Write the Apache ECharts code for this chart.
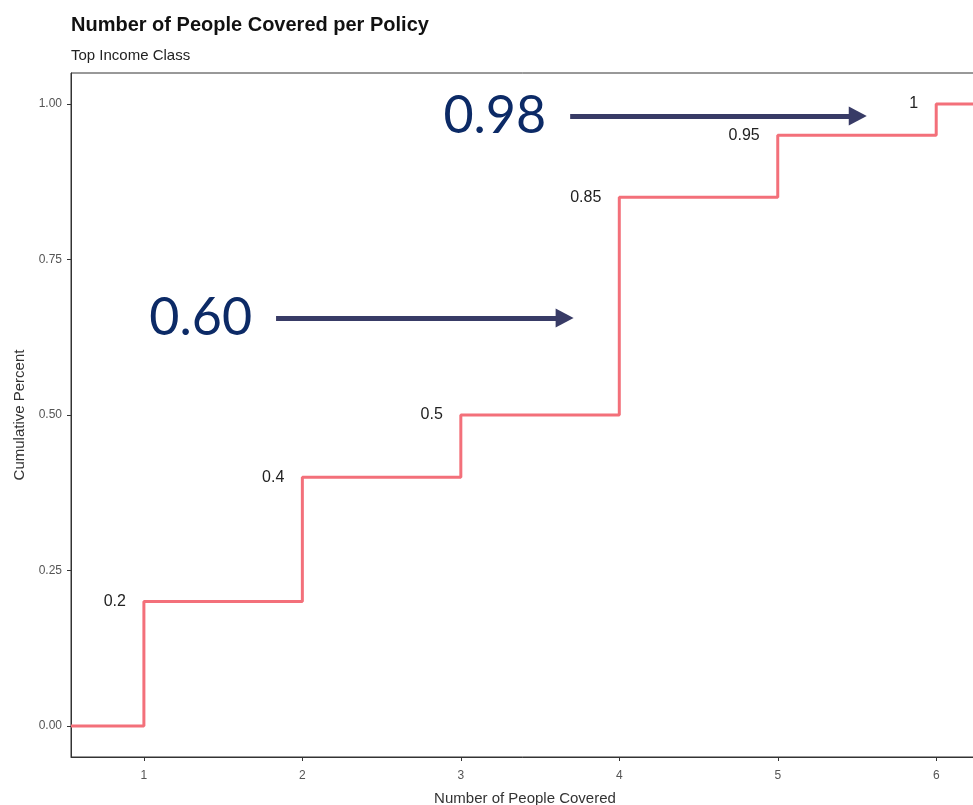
<!DOCTYPE html>
<html>
<head>
<meta charset="utf-8">
<script src="https://cdn.jsdelivr.net/npm/echarts@6/dist/echarts.min.js"></script>
<style>
  html, body { margin: 0; padding: 0; background: #ffffff; }
  #chart { width: 973px; height: 805px; }
</style>
</head>
<body>
<div id="chart"></div>
<script>
// ---- data ----
const peopleCovered = [1, 2, 3, 4, 5, 6];
const cumulativePercent = [0.2, 0.4, 0.5, 0.85, 0.95, 1];
const xTickValues = [1, 2, 3, 4, 5, 6];
const yTickValues = [0, 0.25, 0.5, 0.75, 1];
const xRange = [0.54, 6.27];
const yRange = [-0.05, 1.05];
// annotations (arrows with callout numbers), in data coordinates
const annotationText = ['0.60', '0.98'];
const annotationY = [0.656, 0.981];
const annotationXStart = [1.834, 3.69];
const annotationXEnd = [3.655, 5.505];

// ---- build ----
const lineData = [{ value: [xRange[0], 0], label: { show: false } }];
peopleCovered.forEach((x, i) => {
  lineData.push({ value: [x, cumulativePercent[i]] });
});
lineData.push({ value: [xRange[1], cumulativePercent[cumulativePercent.length - 1]], label: { show: false } });

const arrowLines = annotationText.map((t, i) => ([
  { coord: [annotationXStart[i], annotationY[i]], label: { formatter: t } },
  { coord: [annotationXEnd[i], annotationY[i]] }
]));

const chart = echarts.init(document.getElementById('chart'), null, { renderer: 'canvas' });
chart.setOption({
  animation: false,
  backgroundColor: '#ffffff',
  title: {
    text: 'Number of People Covered per Policy',
    subtext: 'Top Income Class',
    left: 66,
    top: 10,
    itemGap: 13,
    textStyle: { fontFamily: 'Liberation Sans', fontSize: 20, fontWeight: 'bold', color: '#111' },
    subtextStyle: { fontFamily: 'Liberation Sans', fontSize: 15, color: '#222' }
  },
  grid: {
    left: 71, right: -6, top: 73, bottom: 48,
    outerBoundsMode: 'none',
    containLabel: false,
    show: true, borderColor: '#333', borderWidth: 1, backgroundColor: 'transparent'
  },
  xAxis: {
    type: 'value',
    min: xRange[0], max: xRange[1],
    name: 'Number of People Covered',
    nameLocation: 'middle',
    nameGap: 34,
    nameTextStyle: { fontFamily: 'Liberation Sans', fontSize: 15, color: '#333' },
    axisLine: { show: true, onZero: false, lineStyle: { color: '#333', width: 1 } },
    axisTick: { show: true, length: 4, customValues: xTickValues, lineStyle: { color: '#333' } },
    axisLabel: { customValues: xTickValues, fontFamily: 'Liberation Sans', fontSize: 12, color: '#555', margin: 13 },
    splitLine: { show: false }
  },
  yAxis: {
    type: 'value',
    min: yRange[0], max: yRange[1],
    name: 'Cumulative Percent',
    nameLocation: 'middle',
    nameGap: 42,
    nameTextStyle: { fontFamily: 'Liberation Sans', fontSize: 15, color: '#333' },
    axisLine: { show: true, onZero: false, lineStyle: { color: '#333', width: 1 } },
    axisTick: { show: true, length: 4, customValues: yTickValues, lineStyle: { color: '#333' } },
    axisLabel: {
      customValues: yTickValues,
      formatter: v => Number(v).toFixed(2),
      fontFamily: 'Liberation Sans', fontSize: 12, color: '#555', margin: 9
    },
    splitLine: { show: false }
  },
  series: [
    {
      type: 'line',
      step: 'end',
      data: lineData,
      symbol: 'circle',
      symbolSize: 0,
      showSymbol: true,
      lineStyle: { color: '#f3707a', width: 3 },
      itemStyle: { color: '#f3707a' },
      label: {
        show: true,
        position: 'left',
        distance: 18,
        formatter: p => String(p.value[1]),
        fontFamily: 'Liberation Sans',
        fontSize: 16,
        color: '#222'
      },
      markLine: {
        silent: true,
        symbol: ['none', 'triangle'],
        symbolSize: [19, 18],
        lineStyle: { color: '#383b66', width: 5, type: 'solid' },
        label: {
          show: true,
          position: 'start',
          distance: 24,
          fontFamily: 'Lato',
          fontSize: 52,
          color: '#0c2a66'
        },
        emphasis: { disabled: true },
        data: arrowLines
      }
    }
  ]
});
</script>
</body>
</html>
